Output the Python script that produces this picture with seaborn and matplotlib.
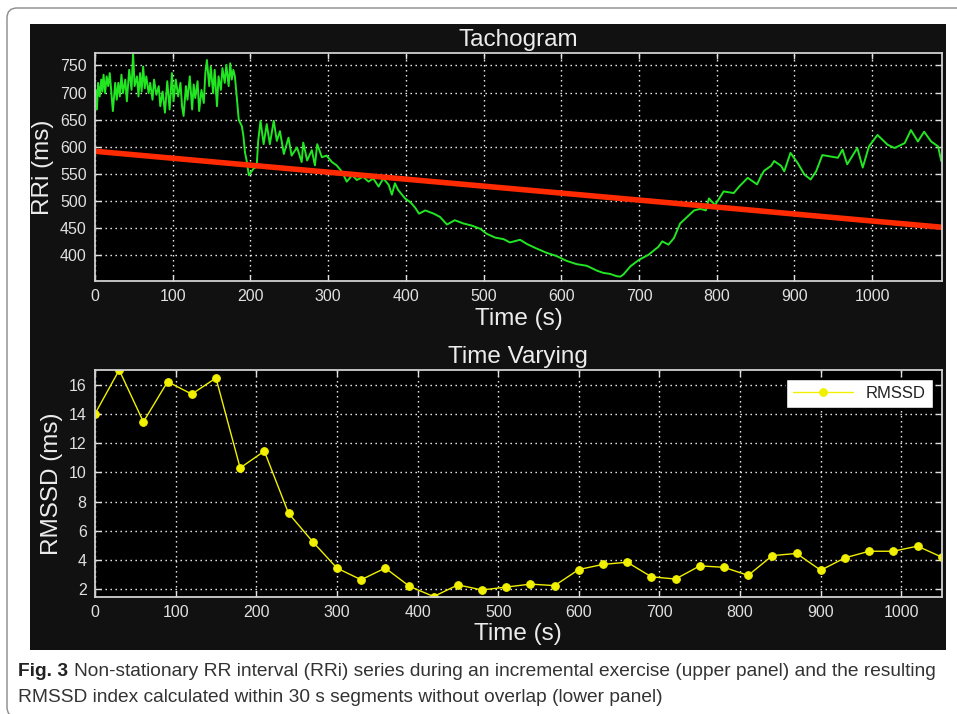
import matplotlib
matplotlib.use('Agg')
import matplotlib.pyplot as plt
from matplotlib.patches import Rectangle, FancyBboxPatch
import seaborn as sns

# tachogram (RR intervals)
rri_t = [0, 1, 2.5, 4, 6, 8, 9.5, 11, 13, 15, 17, 19, 21, 23, 26, 28, 30, 32, 34, 36,
         39, 41, 44, 47, 49, 51, 54, 56, 58, 60, 62, 64, 66, 69, 71, 74, 76, 79, 82, 84,
         87, 90, 93, 96, 99, 101, 104, 107, 110, 112, 114, 117, 119, 122, 125, 127, 129, 132, 134, 137,
         140, 142, 144, 147, 149, 152, 154, 157, 159, 162, 164, 167, 169, 172, 174, 176, 178, 180, 182, 185,
         189, 191, 193, 195, 198, 200, 204, 208, 210, 213, 217, 221, 225, 230, 234, 238, 243, 249, 253, 260,
         266, 268, 273, 279, 283, 286, 292, 298, 305, 311, 318, 324, 331, 337, 345, 352, 358, 365, 371, 378,
         382, 386, 390, 399, 406, 412, 417, 425, 436, 444, 453, 463, 474, 485, 496, 504, 515, 526, 534, 547,
         556, 568, 581, 594, 607, 620, 633, 646, 654, 663, 671, 676, 680, 689, 700, 712, 725, 730, 738, 745,
         753, 762, 771, 779, 786, 790, 798, 809, 822, 829, 840, 852, 857, 861, 870, 874, 883, 887, 895, 904,
         913, 921, 928, 936, 956, 962, 968, 981, 988, 996, 1007, 1020, 1029, 1042, 1050, 1059, 1067, 1076, 1085, 1089]
rri_ms = [700, 705, 669, 718, 693, 724, 702, 733, 699, 730, 712, 736, 702, 666, 718, 687, 718, 693, 733, 699,
          724, 684, 742, 705, 773, 712, 730, 693, 736, 702, 748, 708, 730, 699, 718, 687, 724, 696, 712, 675,
          702, 663, 721, 669, 736, 684, 724, 693, 718, 675, 657, 712, 687, 730, 669, 715, 690, 721, 666, 705,
          681, 736, 760, 712, 748, 699, 742, 675, 730, 705, 745, 718, 751, 712, 754, 724, 742, 730, 699, 650,
          638, 620, 590, 576, 548, 552, 560, 563, 611, 648, 605, 642, 605, 648, 611, 629, 587, 617, 584, 599,
          572, 608, 575, 594, 566, 605, 581, 584, 572, 566, 554, 536, 548, 539, 545, 536, 542, 527, 542, 530,
          512, 533, 521, 505, 498, 488, 477, 483, 477, 471, 457, 465, 459, 455, 449, 440, 433, 430, 424, 429,
          421, 413, 405, 399, 390, 384, 381, 372, 368, 366, 362, 361, 365, 380, 392, 401, 416, 426, 420, 432,
          459, 471, 483, 486, 483, 505, 493, 518, 515, 527, 543, 531, 546, 556, 565, 574, 565, 555, 589, 571,
          549, 540, 555, 585, 580, 595, 568, 598, 562, 601, 622, 604, 598, 607, 631, 610, 628, 610, 601, 574]

# linear trend of the tachogram
trend_t = [0, 1090]
trend_ms = [592, 452]

# RMSSD in 30 s windows
rmssd_t = [0, 30, 60, 90, 120, 150, 180, 210, 240, 270, 300, 330, 360, 390, 420, 450, 480, 510,
           540, 570, 600, 630, 660, 690, 720, 750, 780, 810, 840, 870, 900, 930, 960, 990, 1020, 1050]
rmssd_ms = [14.0, 17.0, 13.45, 16.2, 15.35, 16.45, 10.3, 11.45, 7.2, 5.25, 3.45, 2.65, 3.45, 2.2, 1.5, 2.3, 1.95, 2.15,
            2.35, 2.25, 3.35, 3.7, 3.85, 2.85, 2.7, 3.6, 3.5, 2.95, 4.3, 4.45, 3.3, 4.15, 4.6, 4.6, 4.95, 4.2]

sns.set_theme(style='dark')
plt.rcParams['font.family'] = ['Liberation Sans', 'DejaVu Sans']

W, H = 957, 714
fig = plt.figure(figsize=(W / 100, H / 100), dpi=100)
fig.patch.set_facecolor('white')

# page border and dark figure background (behind the axes)
fig.patches.append(FancyBboxPatch((0.07, -0.03), 10.0, 7.09, boxstyle='round,pad=0,rounding_size=0.1',
                                  transform=fig.dpi_scale_trans, facecolor='none', edgecolor='#8a8a8a',
                                  linewidth=1.0, zorder=-2))
fig.patches.append(Rectangle((30 / W, 1 - 650 / H), (946 - 30) / W, (650 - 24) / H,
                             transform=fig.transFigure, facecolor='#111111', edgecolor='none', zorder=-1))

txt = '#ececec'


def style(ax):
    ax.set_facecolor('black')
    for s in ax.spines.values():
        s.set_visible(True)
        s.set_color('#d0d0d0')
        s.set_linewidth(1.3)
    ax.tick_params(direction='in', length=4, width=1, colors='#e0e0e0', labelsize=11.5,
                   top=True, right=True, bottom=True, left=True, pad=6)
    ax.grid(True, color='white', linestyle=(0, (1, 2.6)), linewidth=1.0)
    ax.set_axisbelow(True)


ax1 = fig.add_axes([95 / W, 1 - 281 / H, (942 - 95) / W, (281 - 53) / H])
sns.lineplot(x=rri_t, y=rri_ms, ax=ax1, color='#22e622', linewidth=1.4)
sns.lineplot(x=trend_t, y=trend_ms, ax=ax1, color='#ff2a00', linewidth=4)
ax1.set_xlim(0, 1090)
ax1.set_ylim(353, 773)
ax1.set_xticks(range(0, 1001, 100))
ax1.set_yticks(range(400, 751, 50))
style(ax1)
ax1.set_title('Tachogram', color=txt, fontsize=17.5, pad=5)
ax1.set_xlabel('Time (s)', color=txt, fontsize=17.5, labelpad=3)
ax1.set_ylabel('RRi (ms)', color=txt, fontsize=17.5, labelpad=4)

ax2 = fig.add_axes([95 / W, 1 - 597 / H, (941.7 - 95) / W, (597 - 370) / H])
sns.lineplot(x=rmssd_t, y=rmssd_ms, ax=ax2, color='#f0f000', linewidth=1.0, marker='o',
             markersize=5.5, markeredgecolor='#f0f000', label='RMSSD')
ax2.set_xlim(0, 1050)
ax2.set_ylim(1.47, 17.0)
ax2.set_xticks(range(0, 1001, 100))
ax2.set_yticks(range(2, 17, 2))
style(ax2)
ax2.set_title('Time Varying', color=txt, fontsize=17.5, pad=5)
ax2.set_xlabel('Time (s)', color=txt, fontsize=17.5, labelpad=2)
ax2.set_ylabel('RMSSD (ms)', color=txt, fontsize=17.5, labelpad=4)
leg = ax2.legend(loc='upper right', facecolor='white', edgecolor='black', framealpha=1, fancybox=False,
                 fontsize=12, handlelength=3.6, borderpad=0.4, labelcolor='#222222', borderaxespad=0.55)
leg.get_frame().set_linewidth(1.0)

# caption
cap = ['Liberation Sans', 'DejaVu Sans']
t0 = fig.text(18 / W, 1 - 672 / H, 'Fig. 3', fontsize=12.5, fontweight='bold', color='#222222',
              va='center', family=cap)
t1 = fig.text(74 / W, 1 - 672 / H,
              'Non-stationary RR interval (RRi) series during an incremental exercise (upper panel) and the resulting',
              fontsize=12.5, color='#333333', va='center', family=cap)
t2 = fig.text(18 / W, 1 - 697 / H,
              'RMSSD index calculated within 30 s segments without overlap (lower panel)',
              fontsize=12.5, color='#333333', va='center', family=cap)

# scale caption so that line 1 ends where it does in the source
fig.canvas.draw()
w1 = t1.get_window_extent().width
k = (937 - 74) / w1
for t in (t0, t1, t2):
    t.set_fontsize(12.5 * k)

fig.savefig('out.png', dpi=100, facecolor='white')
